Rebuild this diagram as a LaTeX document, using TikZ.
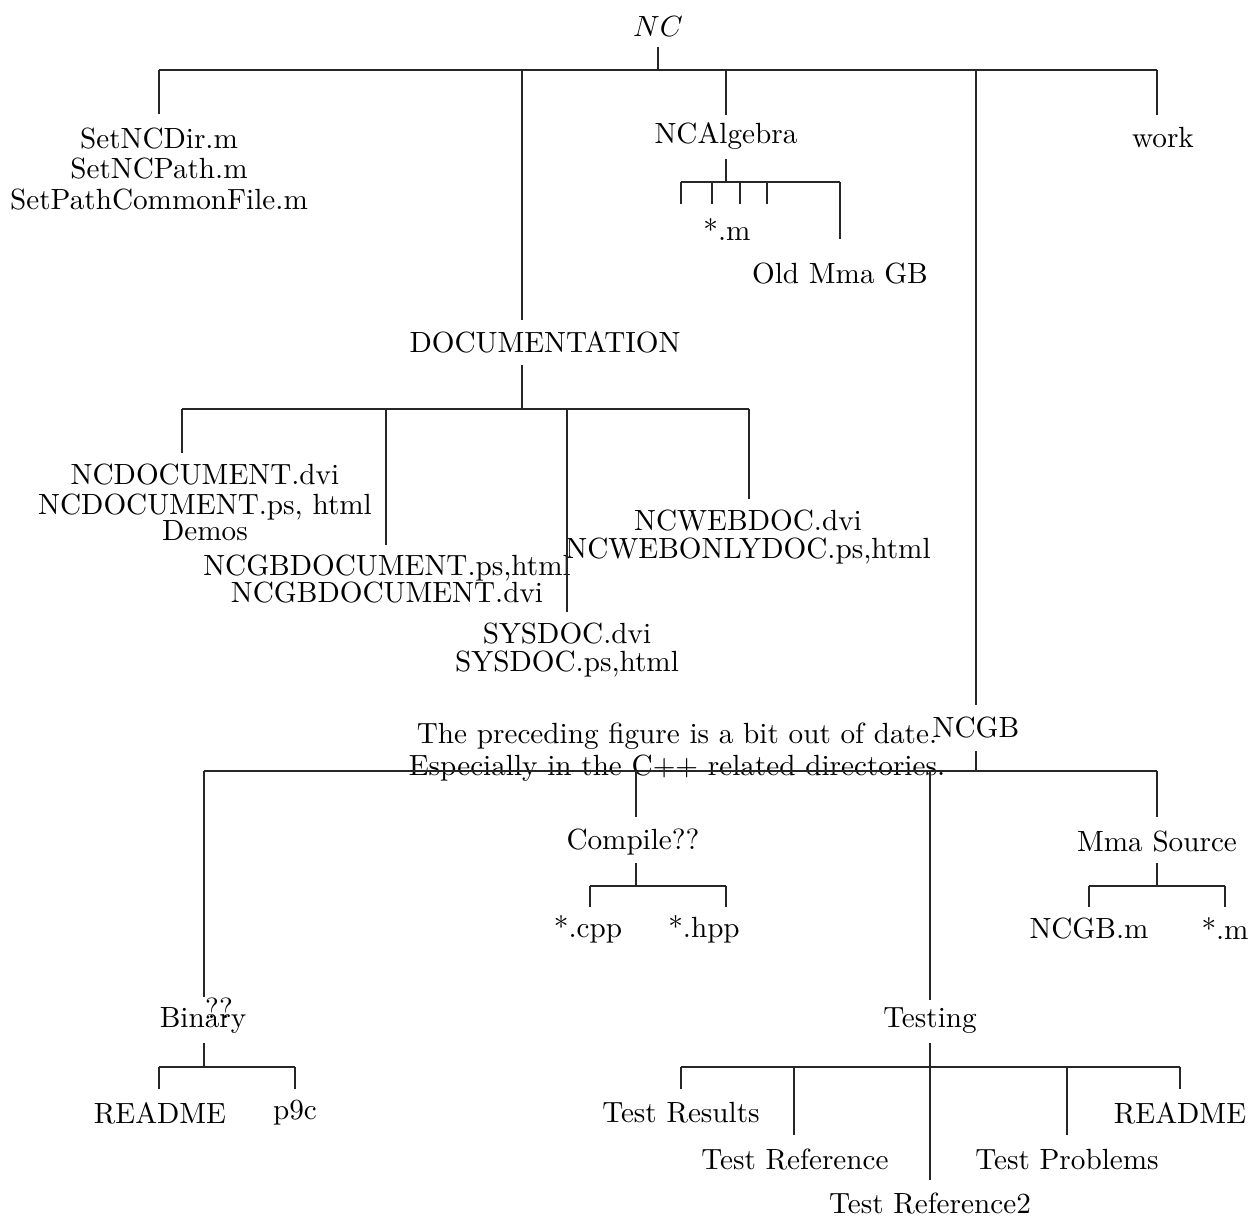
\documentclass[tikz,border=0pt]{standalone}
\usepackage{amsmath}
\tikzset{
  dirname/.style={align=center, inner sep=0pt, font=\fontsize{10.95}{10.2}\selectfont},
  loosename/.style={dirname, font=\fontsize{10.95}{11.3}\selectfont},
  branch/.style={draw=black!85, line width=0.45pt},
}

\begin{document}
\begin{tikzpicture}[x=0.375pt, y=-0.375pt, every node/.style={dirname}]
\useasboundingbox (0,0) rectangle (1251,1216);

% top level
\node (nc) at (658,27) {$NC$};
\node[loosename] (setnc) at (159,169) {SetNCDir.m\\SetNCPath.m\\SetPathCommonFile.m};
\node (doc) at (545,342) {DOCUMENTATION};
\node (ncalg) at (726,136) {NCAlgebra};
\node (ncgb) at (976,728) {NCGB};
\node (work) at (1163,138) {work};

\coordinate (ncbar) at (658,70);
\coordinate (nctop) at (658,47);
\coordinate (ncleft) at (159,70);
\coordinate (ncright) at (1157,70);
\draw[branch] (nctop) -- (ncbar);
\draw[branch] (ncleft) -- (ncright);
\draw[branch] (ncleft) -- (159,114);
\draw[branch] (522,70) -- (522,320);
\draw[branch] (726,70) -- (726,115);
\draw[branch] (976,70) -- (976,705);
\draw[branch] (ncright) -- (1157,115);

% NCAlgebra
\node (starm) at (727,230) {*.m};
\node (oldmma) at (840,274) {Old Mma GB};
\draw[branch] (726,159) -- (726,182);
\draw[branch] (681,182) -- (840,182);
\foreach \x in {681,712,740,767}
  \draw[branch] (\x,182) -- (\x,204);
\draw[branch] (840,182) -- (840,239);

% DOCUMENTATION
\node[loosename] (ncdocument) at (205,502) {NCDOCUMENT.dvi\\NCDOCUMENT.ps, html\\[-1.5pt]Demos};
\node (ncgbdocument) at (387,579) {NCGBDOCUMENT.ps,html\\NCGBDOCUMENT.dvi};
\node (sysdoc) at (567,650) {SYSDOC.dvi\\SYSDOC.ps,html};
\node (ncwebdoc) at (748,537) {NCWEBDOC.dvi\\NCWEBONLYDOC.ps,html};
\draw[branch] (522,365) -- (522,409);
\draw[branch] (182,409) -- (749,409);
\draw[branch] (182,409) -- (182,453);
\draw[branch] (386,409) -- (386,545);
\draw[branch] (567,409) -- (567,612);
\draw[branch] (749,409) -- (749,499);

% NCGB
\node[font=\fontsize{10.95}{12.2}\selectfont] (note) at (677,752) {The preceding figure is a bit out of date.\\Especially in the C++ related directories.};
\node (binary) at (203,1020) {Binary};
\node (qq) at (219,1008) {??};
\node (compile) at (633,842) {Compile??};
\node (testing) at (930,1021) {Testing};
\node (mmasrc) at (1157,842) {Mma Source};
\draw[branch] (976,751) -- (976,771);
\draw[branch] (204,771) -- (1157,771);
\draw[branch] (204,771) -- (204,997);
\draw[branch] (636,771) -- (636,817);
\draw[branch] (930,771) -- (930,1000);
\draw[branch] (1157,771) -- (1157,817);

% Compile??
\node (cpp) at (588,929) {*.cpp};
\node (hpp) at (704,929) {*.hpp};
\draw[branch] (636,863) -- (636,886);
\draw[branch] (590,886) -- (726,886);
\draw[branch] (590,886) -- (590,907);
\draw[branch] (726,886) -- (726,907);

% Mma Source
\node (ncgbm) at (1089,929) {NCGB.m};
\node (mmam) at (1225,929) {*.m};
\draw[branch] (1157,863) -- (1157,886);
\draw[branch] (1089,886) -- (1225,886);
\draw[branch] (1089,886) -- (1089,907);
\draw[branch] (1225,886) -- (1225,907);

% Binary
\node (readme) at (160,1113) {README};
\node (p9c) at (295,1113) {p9c};
\draw[branch] (204,1043) -- (204,1067);
\draw[branch] (159,1067) -- (295,1067);
\draw[branch] (159,1067) -- (159,1089);
\draw[branch] (295,1067) -- (295,1089);

% Testing
\node (results) at (681,1113) {Test Results};
\node (reference) at (795,1159) {Test Reference};
\node (reference2) at (930,1203) {Test Reference2};
\node (problems) at (1067,1159) {Test Problems};
\node (treadme) at (1180,1113) {README};
\draw[branch] (930,1043) -- (930,1180);
\draw[branch] (681,1067) -- (1180,1067);
\draw[branch] (681,1067) -- (681,1089);
\draw[branch] (794,1067) -- (794,1135);
\draw[branch] (1067,1067) -- (1067,1135);
\draw[branch] (1180,1067) -- (1180,1089);
\end{tikzpicture}
\end{document}
